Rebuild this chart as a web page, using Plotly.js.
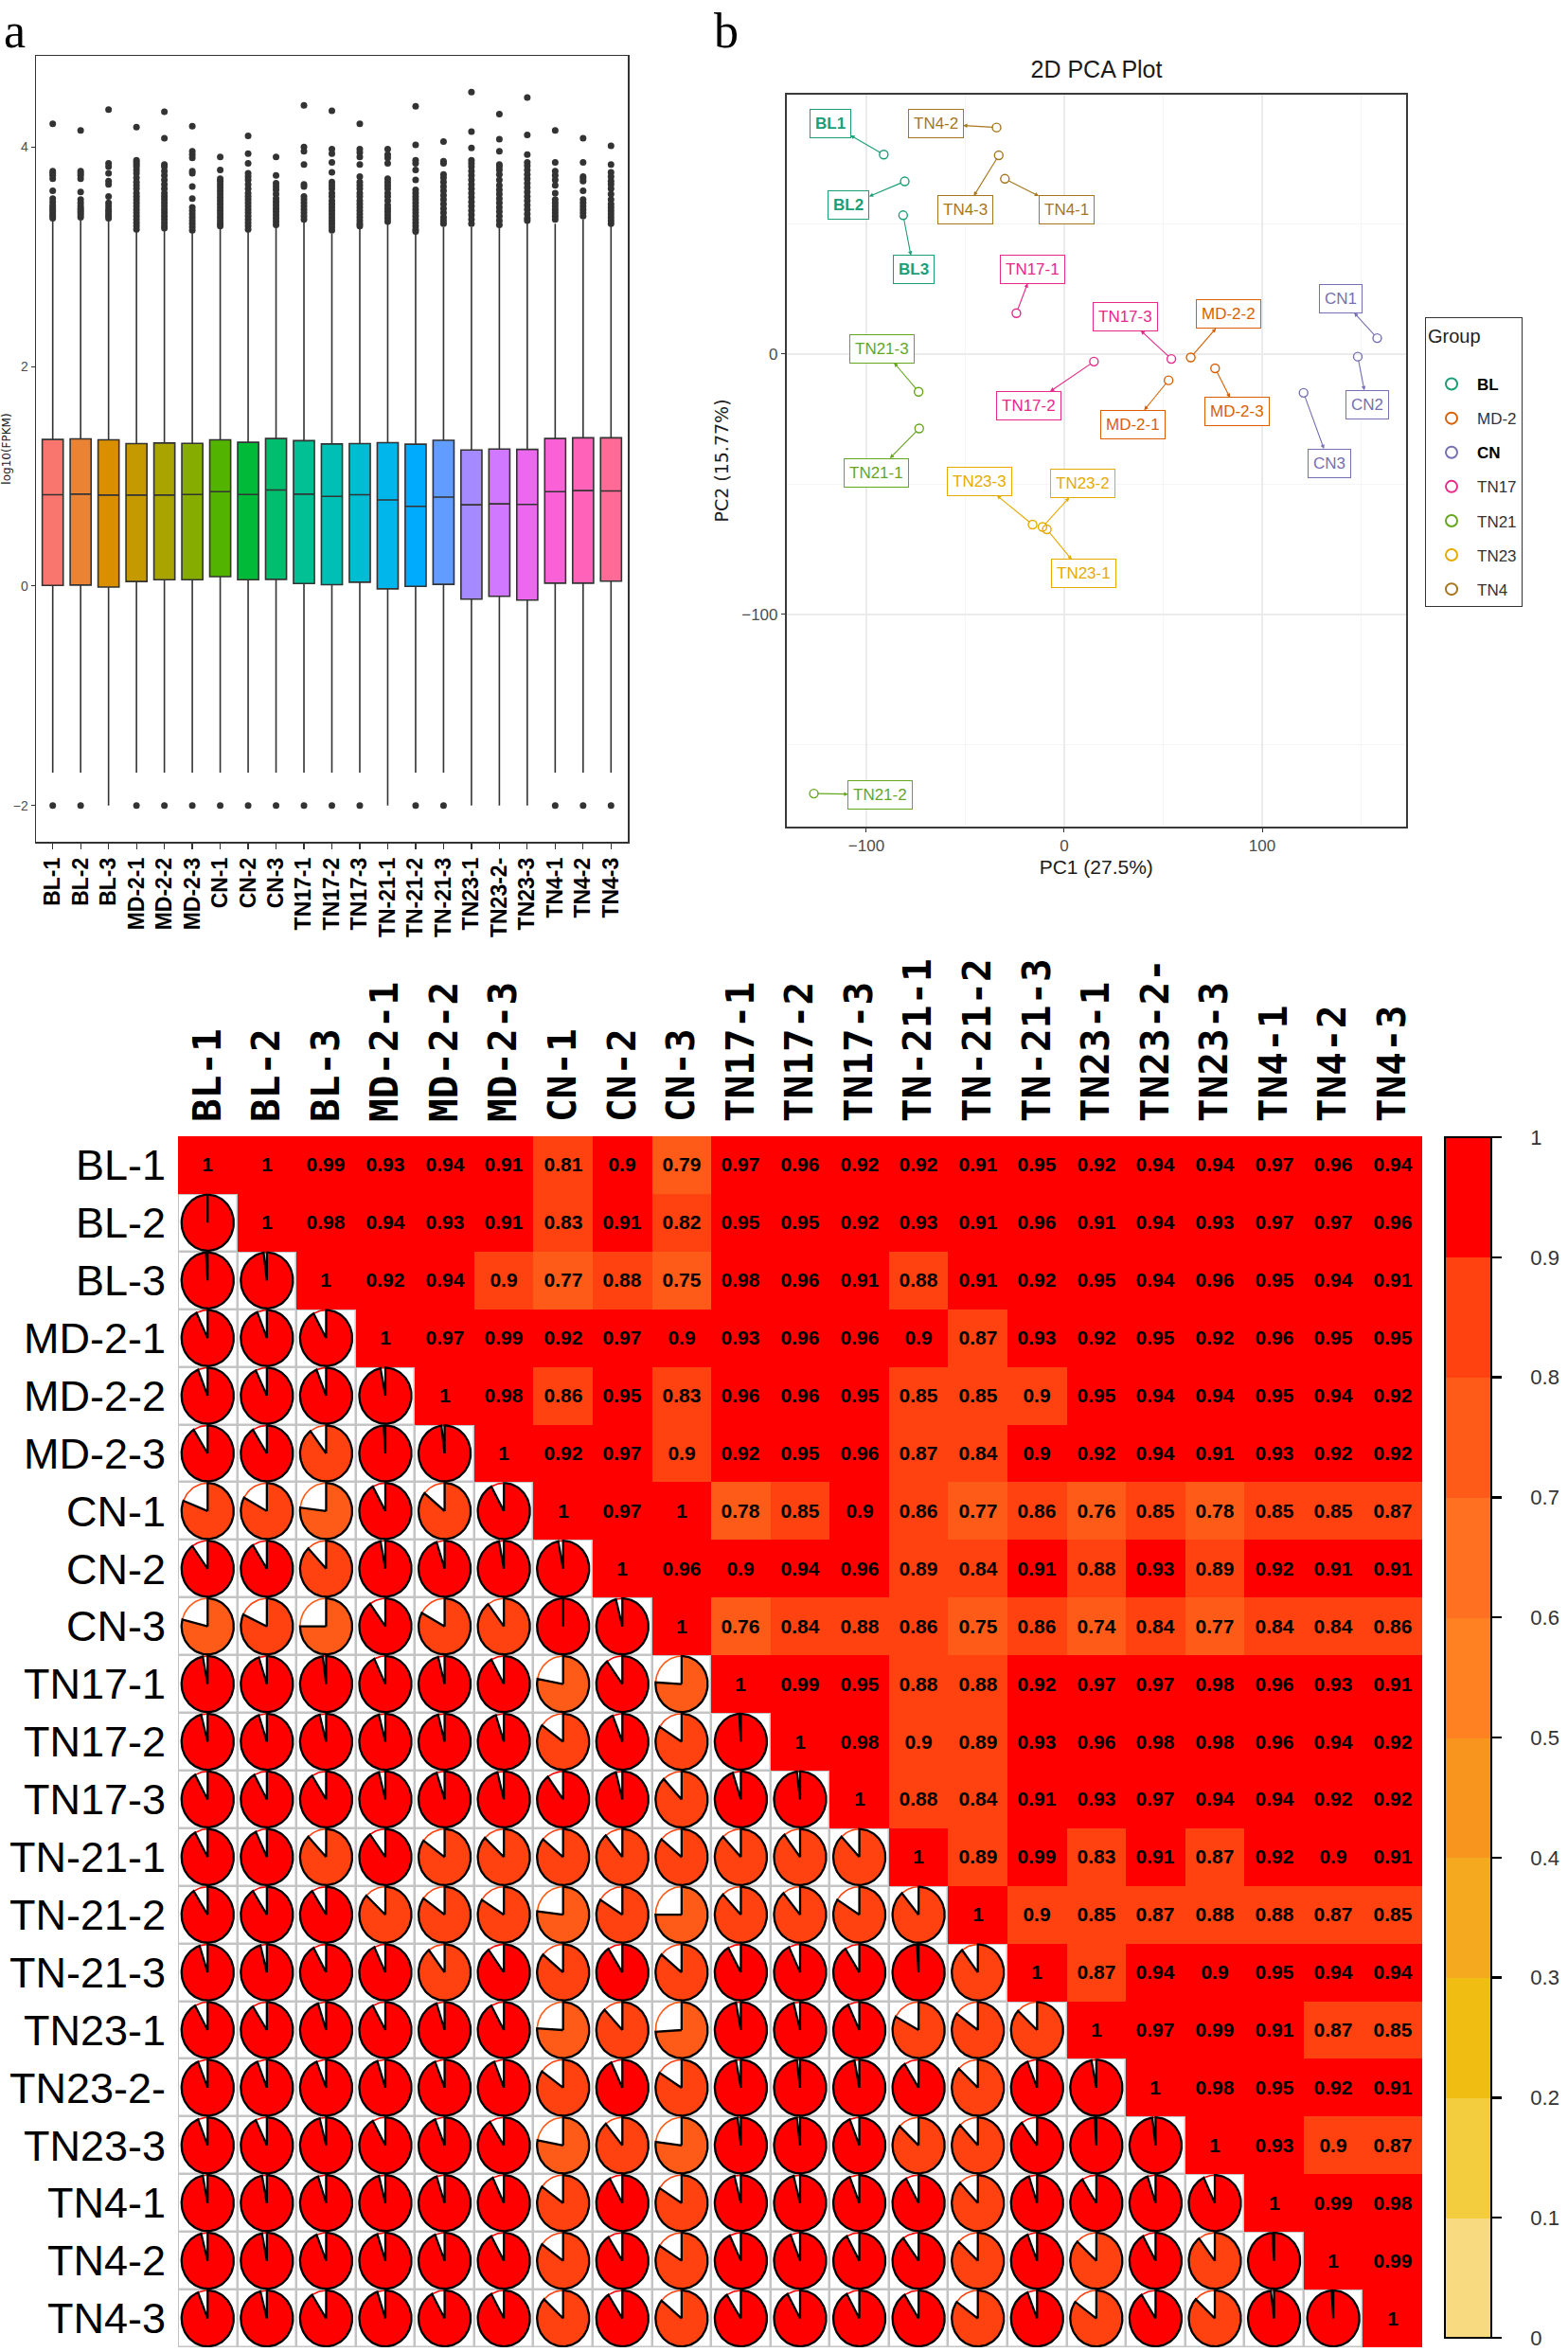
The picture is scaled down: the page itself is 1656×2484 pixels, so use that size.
<!DOCTYPE html>
<html><head><meta charset="utf-8">
<script src="https://cdn.plot.ly/plotly-3.0.1.min.js"></script>
<style>html,body{margin:0;padding:0;background:#fff}#chart{width:1656px;height:2484px}</style>
</head><body><div id="chart"></div>
<script>
// ---------- shared sample labels ----------
const sampleLabels = ["BL-1","BL-2","BL-3","MD-2-1","MD-2-2","MD-2-3","CN-1","CN-2","CN-3","TN17-1","TN17-2","TN17-3","TN-21-1","TN-21-2","TN-21-3","TN23-1","TN23-2-","TN23-3","TN4-1","TN4-2","TN4-3"];

// ---------- panel a: boxplot statistics (log10 FPKM) ----------
const boxQ3     = [1.335,1.341,1.332,1.297,1.303,1.300,1.332,1.309,1.344,1.324,1.294,1.297,1.306,1.292,1.327,1.239,1.248,1.245,1.344,1.350,1.350];
const boxMedian = [0.831,0.837,0.828,0.828,0.828,0.834,0.860,0.834,0.875,0.837,0.816,0.831,0.784,0.726,0.810,0.740,0.749,0.743,0.860,0.869,0.866];
const boxQ1     = [0.006,0.009,-0.009,0.041,0.058,0.058,0.085,0.058,0.061,0.023,0.012,0.035,-0.026,-0.003,0.015,-0.120,-0.093,-0.128,0.026,0.026,0.044];
const boxLower  = [-1.70,-1.70,-2.00,-1.70,-1.70,-1.70,-1.70,-1.70,-1.70,-1.70,-1.70,-1.70,-2.00,-1.70,-1.70,-2.00,-2.00,-2.00,-1.70,-1.70,-1.70];
const boxUpper  = [3.33,3.33,3.34,3.24,3.25,3.22,3.26,3.23,3.27,3.32,3.21,3.26,3.30,3.21,3.27,3.27,3.26,3.31,3.30,3.34,3.28];
const lowOutlier = [-2,-2,null,-2,-2,-2,-2,-2,-2,-2,-2,-2,null,-2,-2,null,null,null,-2,-2,-2];
const highOutliers = [
 [4.21,3.78,3.76,3.74,3.71,3.60,3.53,3.50,3.47,3.45,3.43,3.41,3.39,3.37,3.35],
 [4.15,3.78,3.76,3.74,3.71,3.59,3.52,3.49,3.46,3.44,3.42,3.40,3.38,3.36],
 [4.34,3.85,3.82,3.76,3.69,3.66,3.55,3.49,3.46,3.43,3.41,3.39,3.37,3.35],
 [4.18,3.88,3.86,3.84,3.82,3.79,3.76,3.72,3.68,3.65,3.62,3.58,3.55,3.52,3.49,3.46,3.43,3.40,3.37,3.34,3.31,3.28,3.25],
 [4.32,4.08,3.84,3.82,3.78,3.74,3.70,3.66,3.62,3.58,3.55,3.52,3.49,3.46,3.43,3.40,3.37,3.34,3.31,3.28,3.26],
 [4.19,3.96,3.93,3.90,3.78,3.76,3.64,3.53,3.45,3.42,3.39,3.36,3.33,3.30,3.27,3.24],
 [3.91,3.79,3.71,3.69,3.66,3.63,3.60,3.57,3.54,3.51,3.48,3.45,3.42,3.39,3.36,3.33,3.30,3.28],
 [4.10,3.94,3.85,3.76,3.73,3.70,3.66,3.62,3.58,3.55,3.52,3.49,3.46,3.43,3.40,3.37,3.34,3.31,3.28,3.25],
 [3.91,3.74,3.67,3.64,3.61,3.57,3.53,3.50,3.47,3.44,3.41,3.38,3.35,3.32,3.29],
 [4.38,4.00,3.96,3.84,3.66,3.64,3.55,3.52,3.49,3.46,3.43,3.40,3.37,3.34],
 [4.33,3.98,3.94,3.86,3.77,3.68,3.65,3.62,3.58,3.55,3.51,3.48,3.45,3.42,3.39,3.36,3.33,3.30,3.27,3.24],
 [4.21,3.98,3.95,3.91,3.84,3.73,3.68,3.65,3.62,3.58,3.55,3.51,3.48,3.45,3.42,3.39,3.36,3.33,3.30,3.28],
 [3.98,3.93,3.90,3.85,3.71,3.68,3.65,3.62,3.58,3.55,3.51,3.47,3.44,3.41,3.38,3.35,3.32],
 [4.37,4.02,3.88,3.85,3.79,3.70,3.61,3.58,3.55,3.52,3.49,3.46,3.43,3.40,3.37,3.34,3.31,3.28,3.25,3.23],
 [4.05,3.87,3.85,3.75,3.72,3.68,3.64,3.60,3.56,3.52,3.48,3.44,3.40,3.36,3.33,3.30],
 [4.50,4.14,3.99,3.88,3.85,3.82,3.78,3.74,3.70,3.66,3.62,3.58,3.54,3.50,3.46,3.42,3.38,3.34,3.30],
 [4.30,4.07,3.96,3.84,3.82,3.79,3.75,3.70,3.65,3.61,3.57,3.53,3.49,3.45,3.41,3.37,3.33,3.29],
 [4.45,4.11,3.93,3.86,3.83,3.79,3.75,3.71,3.67,3.63,3.59,3.55,3.51,3.47,3.43,3.39,3.35,3.33],
 [4.15,3.86,3.78,3.74,3.70,3.65,3.58,3.52,3.49,3.46,3.43,3.40,3.37,3.34],
 [4.08,3.86,3.73,3.71,3.69,3.60,3.52,3.49,3.46,3.43,3.40,3.37],
 [4.01,3.84,3.77,3.73,3.69,3.66,3.62,3.57,3.52,3.48,3.45,3.42,3.39,3.36,3.33,3.30]
];

// ---------- panel b: PCA ----------
const pcaGroups  = ["BL","MD-2","CN","TN17","TN21","TN23","TN4"];
const pcaNames   = ["BL1","BL2","BL3","MD-2-1","MD-2-2","MD-2-3","CN1","CN2","CN3","TN17-1","TN17-2","TN17-3","TN21-1","TN21-2","TN21-3","TN23-1","TN23-2","TN23-3","TN4-1","TN4-2","TN4-3"];
const pcaGroupOf = ["BL","BL","BL","MD-2","MD-2","MD-2","CN","CN","CN","TN17","TN17","TN17","TN21","TN21","TN21","TN23","TN23","TN23","TN4","TN4","TN4"];
const pc1 = [-91.2,-80.6,-81.4,52.7,63.9,76.2,158.1,148.3,120.9,-24.2,15.0,54.1,-73.3,-126.5,-73.6,-8.8,-11.0,-16.0,-30.0,-34.2,-33.1];
const pc2 = [76.6,66.3,53.3,-10.1,-1.3,-5.5,6.1,-1.0,-14.9,15.7,-2.9,-1.9,-28.6,-168.8,-14.5,-67.3,-66.4,-65.5,67.3,87.0,76.3];
const labelPC1 = [-118.3,-108.9,-76.1,34.5,82.9,87.4,139.9,153.0,133.8,-15.8,-17.7,30.9,-95.1,-92.9,-92.1,9.7,9.1,-42.9,1.0,-65.0,-50.1];
const labelPC2 = [88.5,57.2,32.4,-27.0,15.3,-22.2,21.3,-19.4,-41.9,32.6,-19.8,14.5,-45.5,-169.2,2.1,-84.4,-49.7,-48.8,55.3,88.4,55.3];

// ---------- panel c: correlation matrix (upper triangle, row by row from the diagonal) ----------
const corrUpper = [
 [1,1,0.99,0.93,0.94,0.91,0.81,0.9,0.79,0.97,0.96,0.92,0.92,0.91,0.95,0.92,0.94,0.94,0.97,0.96,0.94],
 [1,0.98,0.94,0.93,0.91,0.83,0.91,0.82,0.95,0.95,0.92,0.93,0.91,0.96,0.91,0.94,0.93,0.97,0.97,0.96],
 [1,0.92,0.94,0.897,0.77,0.88,0.75,0.98,0.96,0.91,0.88,0.91,0.92,0.95,0.94,0.96,0.95,0.94,0.91],
 [1,0.97,0.99,0.92,0.97,0.9,0.93,0.96,0.96,0.9,0.87,0.93,0.92,0.95,0.92,0.96,0.95,0.95],
 [1,0.98,0.86,0.95,0.83,0.96,0.96,0.95,0.85,0.85,0.897,0.95,0.94,0.94,0.95,0.94,0.92],
 [1,0.92,0.97,0.897,0.92,0.95,0.96,0.87,0.84,0.9,0.92,0.94,0.91,0.93,0.92,0.92],
 [1,0.97,1,0.78,0.85,0.9,0.86,0.77,0.86,0.76,0.85,0.78,0.85,0.85,0.87],
 [1,0.96,0.9,0.94,0.96,0.89,0.84,0.91,0.88,0.93,0.89,0.92,0.91,0.91],
 [1,0.76,0.84,0.88,0.86,0.75,0.86,0.74,0.84,0.77,0.84,0.84,0.86],
 [1,0.99,0.95,0.88,0.88,0.92,0.97,0.97,0.98,0.96,0.93,0.91],
 [1,0.98,0.897,0.89,0.93,0.96,0.98,0.98,0.96,0.94,0.92],
 [1,0.88,0.84,0.91,0.93,0.97,0.94,0.94,0.92,0.92],
 [1,0.89,0.99,0.83,0.91,0.87,0.92,0.9,0.91],
 [1,0.897,0.85,0.87,0.88,0.88,0.87,0.85],
 [1,0.87,0.94,0.9,0.95,0.94,0.94],
 [1,0.97,0.99,0.91,0.87,0.85],
 [1,0.98,0.95,0.92,0.91],
 [1,0.93,0.897,0.87],
 [1,0.99,0.98],
 [1,0.99],
 [1]
];
const colorbarTicks = [0,0.1,0.2,0.3,0.4,0.5,0.6,0.7,0.8,0.9,1];

// ---------- styles ----------
const binColors = ['#F8DB80','#F3CD3E','#F0BE12','#F4A91E','#F8951F','#FF8122','#FF7020','#FF5B18','#FF4210','#FF0000'];
const groupColors = {"BL":"#1B9E77","MD-2":"#D95F02","CN":"#7570B3","TN17":"#E7298A","TN21":"#66A61E","TN23":"#E6AB02","TN4":"#A6761D"};

function hcl2hex(h, c, l){
  const hr = h*Math.PI/180, U = c*Math.cos(hr), V = c*Math.sin(hr);
  const Y = l > 8 ? Math.pow((l+16)/116, 3) : l/903.3;
  const un = 0.1978398, vn = 0.4683363;
  const u = U/(13*l) + un, v = V/(13*l) + vn;
  const X = 9*Y*u/(4*v), Z = -X/3 - 5*Y + 3*Y/v;
  const lin = [3.240479*X - 1.537150*Y - 0.498535*Z, -0.969256*X + 1.875992*Y + 0.041556*Z, 0.055648*X - 0.204043*Y + 1.057311*Z];
  return '#' + lin.map(t => { t = t <= 0.0031308 ? 12.92*t : 1.055*Math.pow(t, 1/2.4) - 0.055; t = Math.max(0, Math.min(1, t)); return Math.round(t*255).toString(16).padStart(2,'0'); }).join('');
}
const nS = sampleLabels.length;
const hueColors = sampleLabels.map((s, i) => hcl2hex(15 + 360*i/nS, 100, 65));

const traces = [];

// ---------- panel a traces ----------
sampleLabels.forEach((s, i) => {
  traces.push({type:'box', xaxis:'x', yaxis:'y', x:[s], q1:[boxQ1[i]], median:[boxMedian[i]], q3:[boxQ3[i]],
    lowerfence:[boxLower[i]], upperfence:[boxUpper[i]], boxpoints:false, width:0.75, whiskerwidth:0,
    fillcolor:hueColors[i], line:{color:'#333333', width:1.6}, showlegend:false, hoverinfo:'skip'});
});
const oX = [], oY = [];
sampleLabels.forEach((s, i) => {
  highOutliers[i].forEach(v => { oX.push(s); oY.push(v); });
  if (lowOutlier[i] !== null) { oX.push(s); oY.push(lowOutlier[i]); }
});
traces.push({type:'scatter', mode:'markers', xaxis:'x', yaxis:'y', x:oX, y:oY,
  marker:{color:'#333333', size:7}, showlegend:false, hoverinfo:'skip'});

// ---------- panel b traces ----------
pcaGroups.forEach(g => {
  const idx = pcaGroupOf.map((gg, i) => gg === g ? i : -1).filter(i => i >= 0);
  const bold = (g === 'BL' || g === 'CN');
  traces.push({type:'scatter', mode:'markers', xaxis:'x2', yaxis:'y2',
    x: idx.map(i => pc1[i]), y: idx.map(i => pc2[i]),
    name: bold ? '<b><span style="color:#000">' + g + '</span></b>' : g,
    legendgroup: g,
    marker:{symbol:'circle-open', size:9, color:groupColors[g], line:{width:1.4, color:groupColors[g]}},
    hoverinfo:'skip'});
});

// ---------- panel c traces ----------
const corr = Array.from({length:nS}, () => new Array(nS).fill(null));
corrUpper.forEach((row, i) => row.forEach((v, k) => { corr[i][i+k] = v; corr[i+k][i] = v; }));
const fmt = v => String(Math.round(v*100)/100);
const zUpper = [], tUpper = [], zLower = [];
for (let i = 0; i < nS; i++) {
  zUpper.push([]); tUpper.push([]); zLower.push([]);
  for (let j = 0; j < nS; j++) {
    if (j >= i) { zUpper[i].push(corr[i][j]); tUpper[i].push(fmt(corr[i][j])); zLower[i].push(null); }
    else { zUpper[i].push(null); tUpper[i].push(''); zLower[i].push(corr[i][j]); }
  }
}
const cs = [];
binColors.forEach((c, k) => {
  const lo = k === 0 ? 0 : k/10 - 0.0005, hi = k === 9 ? 1 : (k+1)/10 - 0.0005;
  cs.push([lo, c]); cs.push([hi, c]);
});
traces.push({type:'heatmap', xaxis:'x3', yaxis:'y3', z:zLower, zmin:0, zmax:1,
  colorscale:[[0,'#C4C4C4'],[1,'#C4C4C4']], showscale:false, hoverinfo:'skip'});
traces.push({type:'heatmap', xaxis:'x3', yaxis:'y3', z:zLower, zmin:0, zmax:1, xgap:2.5, ygap:2.5,
  colorscale:[[0,'#FFFFFF'],[1,'#FFFFFF']], showscale:false, hoverinfo:'skip'});
traces.push({type:'heatmap', xaxis:'x3', yaxis:'y3', z:zUpper, zmin:0, zmax:1, colorscale:cs,
  text:tUpper, texttemplate:'%{text}', textfont:{family:'Liberation Sans, Arial, sans-serif', size:21, color:'#000', weight:'bold'},
  hoverinfo:'skip',
  colorbar:{x:1526/1656, xanchor:'left', y:1-1835/2484, yanchor:'middle', len:1268/2484, lenmode:'fraction',
    thickness:49, thicknessmode:'pixels', outlinecolor:'#000', outlinewidth:2, xpad:0, ypad:0,
    ticks:'outside', ticklen:10, tickwidth:2.5, tickcolor:'#000', tickmode:'array', tickvals:colorbarTicks,
    ticktext:colorbarTicks.map(v => '\u2003\u2009' + v), ticklabeloverflow:'allow',
    tickfont:{family:'Liberation Sans Narrow, Arial Narrow, Liberation Sans, sans-serif', size:22, color:'#333'}}});

// pies in lower triangle
const binOf = v => Math.min(9, Math.floor(v*10 + 1e-9));
const rx = 0.44, ry = 0.485;
const fillX = binColors.map(() => []), fillY = binColors.map(() => []);
const arcX = binColors.map(() => []), arcY = binColors.map(() => []);
const edgeX = [], edgeY = [];
for (let i = 0; i < nS; i++) {
  for (let j = 0; j < i; j++) {
    const v = corr[i][j], b = binOf(v), cx = j, cy = i;
    const end = v*2*Math.PI, nseg = Math.max(2, Math.ceil(v*90));
    const px = [cx], py = [cy];
    for (let s = 0; s <= nseg; s++) { const t = end*s/nseg; px.push(cx + rx*Math.sin(t)); py.push(cy - ry*Math.cos(t)); }
    px.push(cx); py.push(cy);
    fillX[b].push(...px, null); fillY[b].push(...py, null);
    edgeX.push(...px, null); edgeY.push(...py, null);
    const rseg = Math.max(2, Math.ceil((1-v)*90));
    for (let s = 0; s <= rseg; s++) { const t = end + (2*Math.PI - end)*s/rseg; arcX[b].push(cx + rx*Math.sin(t)); arcY[b].push(cy - ry*Math.cos(t)); }
    arcX[b].push(null); arcY[b].push(null);
  }
}
binColors.forEach((c, b) => {
  if (fillX[b].length) traces.push({type:'scatter', mode:'lines', xaxis:'x3', yaxis:'y3', x:fillX[b], y:fillY[b],
    fill:'toself', fillcolor:c, line:{width:0, color:c}, showlegend:false, hoverinfo:'skip'});
});
binColors.forEach((c, b) => {
  if (arcX[b].length) traces.push({type:'scatter', mode:'lines', xaxis:'x3', yaxis:'y3', x:arcX[b], y:arcY[b],
    line:{width:1.6, color:c}, showlegend:false, hoverinfo:'skip'});
});
traces.push({type:'scatter', mode:'lines', xaxis:'x3', yaxis:'y3', x:edgeX, y:edgeY,
  line:{width:2.3, color:'#000'}, showlegend:false, hoverinfo:'skip'});

// ---------- annotations ----------
const annotations = [
  {text:'a', xref:'paper', yref:'paper', x:2/1656, y:1-33/2484, xanchor:'left', yanchor:'middle', showarrow:false,
   font:{family:'Liberation Serif, Times New Roman, serif', size:52, color:'#000'}},
  {text:'b', xref:'paper', yref:'paper', x:752/1656, y:1-33/2484, xanchor:'left', yanchor:'middle', showarrow:false,
   font:{family:'Liberation Serif, Times New Roman, serif', size:52, color:'#000'}}
];
pcaNames.forEach((nm, i) => {
  const col = groupColors[pcaGroupOf[i]];
  const bold = pcaGroupOf[i] === 'BL';
  annotations.push({xref:'x2', yref:'y2', axref:'x2', ayref:'y2', x:pc1[i], y:pc2[i], ax:labelPC1[i], ay:labelPC2[i],
    text: bold ? '<b>' + nm + '</b>' : nm, showarrow:true, arrowcolor:col, arrowwidth:1.1,
    arrowside:'start', startarrowhead:2, startarrowsize:0.8, standoff:4,
    bgcolor:'#fff', bordercolor:col, borderwidth:1, borderpad:5,
    font:{family:'Liberation Sans, Arial, sans-serif', size:17, color:col}});
});

const idx = sampleLabels.map((s, i) => i);
const layout = {
  width:1656, height:2484, margin:{l:0, r:0, t:0, b:0}, paper_bgcolor:'#fff', plot_bgcolor:'rgba(0,0,0,0)',
  boxmode:'overlay', showlegend:true,
  font:{family:'Liberation Sans, Arial, sans-serif', color:'#333'},
  title:{text:'2D PCA Plot', x:1158/1656, y:1-73/2484, xref:'paper', yref:'paper', xanchor:'center', yanchor:'middle',
    font:{size:25, color:'#1a1a1a'}},
  xaxis:{domain:[38/1656, 663/1656], anchor:'y', type:'category', range:[-0.6, 20.6], categoryorder:'array', categoryarray:sampleLabels,
    showline:true, mirror:true, linecolor:'#333', linewidth:1.5, ticks:'outside', ticklen:6, tickwidth:1.2, tickcolor:'#333',
    tickangle:-90, tickfont:{family:'Liberation Sans Narrow, Arial Narrow, Liberation Sans, sans-serif', size:23, color:'#000', weight:'bold'},
    showgrid:false, zeroline:false, automargin:false},
  yaxis:{domain:[1-889/2484, 1-59/2484], anchor:'x', range:[-2.33, 4.83], tickmode:'array', tickvals:[-2,0,2,4],
    showline:true, mirror:true, linecolor:'#333', linewidth:1.5, ticks:'outside', ticklen:4, tickcolor:'#333',
    tickfont:{size:14, color:'#4D4D4D'}, showgrid:false, zeroline:false, automargin:false,
    title:{text:'log10(FPKM)', font:{family:'DejaVu Sans, sans-serif', size:12, color:'#222'}, standoff:6}},
  xaxis2:{domain:[830.5/1656, 1485/1656], anchor:'y2', range:[-140.4, 172.7], tick0:0, dtick:100,
    showgrid:true, gridcolor:'#EBEBEB', gridwidth:1.4, minor:{dtick:50, tick0:0, showgrid:true, gridcolor:'#F2F2F2', gridwidth:0.8},
    zeroline:false, showline:true, mirror:true, linecolor:'#3a3a3a', linewidth:1.6, ticks:'outside', ticklen:4, tickcolor:'#333',
    tickfont:{size:17, color:'#4D4D4D'}, automargin:false,
    title:{text:'PC1 (27.5%)', font:{size:21, color:'#1a1a1a'}, standoff:6}},
  yaxis2:{domain:[1-873/2484, 1-100/2484], anchor:'x2', range:[-181.5, 99.6], tick0:0, dtick:100,
    showgrid:true, gridcolor:'#EBEBEB', gridwidth:1.4, minor:{dtick:50, tick0:0, showgrid:true, gridcolor:'#F2F2F2', gridwidth:0.8},
    zeroline:false, showline:true, mirror:true, linecolor:'#3a3a3a', linewidth:1.6, ticks:'outside', ticklen:4, tickcolor:'#333',
    tickfont:{size:17, color:'#4D4D4D'}, automargin:false,
    title:{text:'PC2 (15.77%)', font:{family:'DejaVu Sans, sans-serif', size:19, color:'#222'}, standoff:8}},
  xaxis3:{domain:[188/1656, 1502/1656], anchor:'y3', range:[-0.5, 20.5], side:'top', tickmode:'array', tickvals:idx, ticktext:sampleLabels,
    tickangle:-90, tickfont:{family:'DejaVu Sans Mono, monospace', size:41, color:'#000', weight:'bold'},
    showgrid:false, zeroline:false, showline:false, ticks:'', ticklabelstandoff:14, automargin:false},
  yaxis3:{domain:[5/2484, 1284/2484], anchor:'x3', range:[20.5, -0.5], tickmode:'array', tickvals:idx, ticktext:sampleLabels,
    tickfont:{family:'Liberation Sans, Arial, sans-serif', size:45, color:'#000'},
    showgrid:false, zeroline:false, showline:false, ticks:'', ticklabelstandoff:12, automargin:false},
  legend:{x:1505/1656, y:1-335/2484, xanchor:'left', yanchor:'top', bordercolor:'#333', borderwidth:1, bgcolor:'#fff',
    title:{text:'Group<br><span style="font-size:1px"> </span>', font:{size:20, color:'#222'}}, font:{size:17, color:'#333'},
    traceorder:'grouped', tracegroupgap:11, itemsizing:'constant', itemwidth:44, entrywidth:72},
  annotations:annotations
};
Plotly.newPlot('chart', traces, layout, {staticPlot:true});
</script>
</body></html>
